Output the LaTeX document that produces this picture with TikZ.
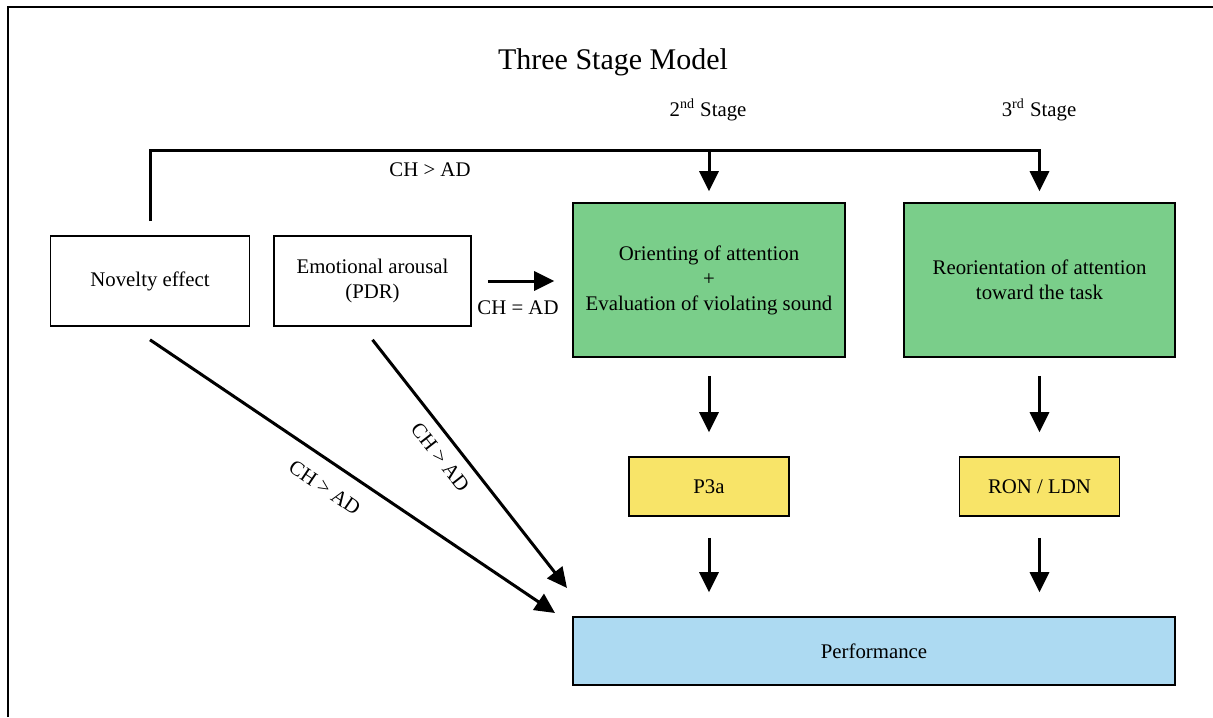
\documentclass[tikz,border=0pt]{standalone}
\usepackage{fontspec}
\setmainfont{Liberation Serif}
\usetikzlibrary{arrows.meta}

\definecolor{stagegreen}{RGB}{122,206,138}
\definecolor{ergyellow}{RGB}{248,228,104}
\definecolor{perfblue}{RGB}{173,218,242}

\begin{document}
\begin{tikzpicture}[x=0.5pt,y=-0.5pt,every path/.style={>={Triangle[length=10pt,width=9.5pt]}},
  every node/.style={font=\fontsize{10.4}{12.5}\selectfont,align=center},
  box/.style={draw,rectangle,line width=0.8pt,inner sep=0pt},
  link/.style={line width=1.5pt}]
\useasboundingbox (0,0) rectangle (1213,717);
\draw[line width=0.8pt] (8,717) -- (8,7) -- (1213,7);
% titles
\node (title)  at (613,62)   {\fontsize{15}{18}\selectfont Three Stage Model};
\node (stage2) at (708,110)  {2\textsuperscript{\fontsize{7}{8}\selectfont nd} Stage};
\node (stage3) at (1039,110) {3\textsuperscript{\fontsize{7}{8}\selectfont rd} Stage};
% boxes
\node[box,minimum width=99.5pt,minimum height=45pt]                 (nov)    at (150,281)    {Novelty effect};
\node[box,minimum width=98.5pt,minimum height=45pt]                 (emo)    at (372.5,281)  {Emotional arousal\\(PDR)};
\node[box,fill=stagegreen,minimum width=136pt,minimum height=77pt]  (orient) at (709,280)    {Orienting of attention\\+\\Evaluation of violating sound};
\node[box,fill=stagegreen,minimum width=135.5pt,minimum height=77pt] (reor)  at (1039.5,280) {Reorientation of attention\\toward the task};
\node[box,fill=ergyellow,minimum width=80pt,minimum height=29.5pt]  (p3a)    at (709,486.5)  {P3a};
\node[box,fill=ergyellow,minimum width=80pt,minimum height=29.5pt]  (ron)    at (1039.5,486.5) {RON / LDN};
\node[box,fill=perfblue,minimum width=301pt,minimum height=34pt]    (perf)   at (874,651)    {Performance};
% labels
\node (chtop) at (430,170) {CH > AD};
\node (cheq)  at (518,308) {CH = AD};
% connectors
\coordinate (rail2) at (709,150);
\coordinate (rail3) at (1039.5,150);
\coordinate (hit1)  at (555,613);
\coordinate (hit2)  at (567,588);
\draw[link,->,shorten <=7pt,shorten >=5.5pt] (nov.north) |- (rail3) -- (reor.north);
\draw[link,->,shorten >=5.5pt]               (rail2) -- (orient.north);
\draw[link,->,shorten <=8pt,shorten >=9pt]   (emo.east) -- (emo.east -| orient.west);
\draw[link,->,shorten <=9pt,shorten >=12pt]  (orient) edge (p3a);
\draw[link,->,shorten <=9pt,shorten >=12pt]  (reor) edge (ron);
\draw[link,->,shorten <=10.5pt,shorten >=12pt] (p3a.south) -- (p3a.south |- perf.north);
\draw[link,->,shorten <=10.5pt,shorten >=12pt] (ron.south) -- (ron.south |- perf.north);
\draw[link,->] ([yshift=-6.5pt]nov.south) -- node[sloped,below=5pt,pos=0.466] {CH > AD} (hit1);
\draw[link,->] ([yshift=-6.5pt]emo.south) -- node[sloped,below=2pt,pos=0.426] {CH > AD} (hit2);
\end{tikzpicture}
\end{document}
